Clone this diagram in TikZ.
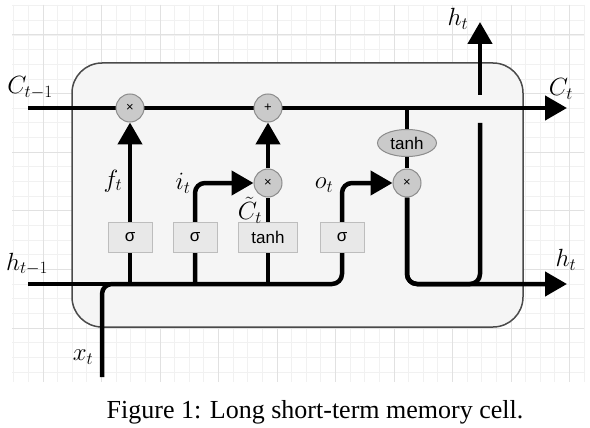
\documentclass[tikz,border=0pt]{standalone}
\usepackage{fontspec}
\newfontfamily\gatefont{Liberation Sans}
\newfontfamily\capfont{Liberation Serif}
\usetikzlibrary{arrows.meta,shapes.geometric}
\pgfdeclarelayer{back}
\pgfdeclarelayer{lines}
\pgfsetlayers{back,lines,main}
\definecolor{gridminor}{HTML}{F1F1F1}
\definecolor{gridmajor}{HTML}{E1E1E1}
\definecolor{cellfill}{HTML}{F5F5F5}
\definecolor{celledge}{HTML}{4A4A4A}
\definecolor{gatefill}{HTML}{CACACA}
\definecolor{gateedge}{HTML}{8C8C8C}
\definecolor{boxfill}{HTML}{E8E8E8}
\definecolor{boxedge}{HTML}{BDBDBD}
\tikzset{
  flow/.style={line width=4.5pt, black},
  tip/.style={-{Triangle[length=22pt,width=24pt]}},
  opnode/.style={circle, draw=gateedge, fill=gatefill, line width=1pt, minimum size=28pt, inner sep=0pt, font=\gatefont\fontsize{13}{13}\selectfont},
  actbox/.style={rectangle, draw=boxedge, fill=boxfill, line width=1pt, minimum width=44pt, minimum height=30pt, inner sep=0pt, font=\gatefont\fontsize{17}{17}\selectfont},
  actell/.style={ellipse, draw=gateedge, fill=gatefill, line width=1pt, minimum width=59pt, minimum height=27pt, inner sep=0pt, font=\gatefont\fontsize{17}{17}\selectfont},
  lab/.style={font=\fontsize{24}{28}\selectfont, inner sep=0pt},
  minorline/.style={draw=gridminor, line width=0.8pt},
  majorline/.style={draw=gridmajor, line width=1pt},
}
\begin{document}
\begin{tikzpicture}[x=1pt,y=-1pt]
\useasboundingbox (0,0) rectangle (590,428);
\begin{pgfonlayer}{back}
  \fill[white] (0,0) rectangle (590,428);
  \foreach \k in {-2,...,37} \draw[minorline] ({43+14.625*\k},5) -- ({43+14.625*\k},382);
  \foreach \k in {-2,...,23} \draw[minorline] (12,{35+14.65*\k}) -- (584,{35+14.65*\k});
  \foreach \k in {0,...,9} \draw[majorline] ({43+58.5*\k},5) -- ({43+58.5*\k},382);
  \foreach \k in {0,...,5} \draw[majorline] (12,{35+58.6*\k}) -- (584,{35+58.6*\k});
  \draw[celledge, fill=cellfill, line width=1.5pt, rounded corners=30pt] (72,63) rectangle (523,327);
\end{pgfonlayer}

% coordinates
\coordinate (cin) at (28,108);
\coordinate (cout) at (567,108);
\coordinate (hin) at (28,284);
\coordinate (hout) at (567,284);
\coordinate (xin) at (102,377);
\coordinate (htop) at (480,22);
\coordinate (jb) at (480,123);
\coordinate (ja) at (480,95);

% operators
\node[opnode] (m1) at (130,108) {×};
\node[opnode] (p1) at (268,108) {+};
\node[opnode] (m2) at (268,183) {×};
\node[opnode] (m3) at (407,183) {×};
\node[actell] (th) at (407,143) {tanh};
\node[actbox] (s1) at (130,237) {σ};
\node[actbox] (s2) at (195,237) {σ};
\node[actbox, minimum width=59pt] (tb) at (268,237) {tanh};
\node[actbox] (s3) at (342,237) {σ};

\begin{pgfonlayer}{lines}
  \draw[flow,tip] (cin) -- (cout);
  \draw[flow] (hin) -- ([xshift=-12pt]s3.center |- hin);
  \draw[flow,tip,rounded corners=10pt] (xin) |- (s3.center |- hin) |- (m3);
  \draw[flow,tip] (s1.center |- hin) -- (m1);
  \draw[flow,tip,rounded corners=10pt] (s2.center |- hin) |- (m2);
  \draw[flow] (tb.center |- hin) -- (m2);
  \draw[flow,tip] (m2) -- (p1);
  \draw[flow] (m3.center |- cin) -- (th);
  \draw[flow] (th) -- (m3);
  \draw[flow,tip,rounded corners=10pt] (m3) |- (hout);
  \draw[flow,rounded corners=10pt] (m3) |- (jb |- hout) -- (jb);
  \draw[flow,tip] (ja) -- (htop);
\end{pgfonlayer}

% labels
\node[lab] (lc0) at (30,88) {$C_{t-1}$};
\node[lab] (lc1) at (561,89) {$C_t$};
\node[lab] (lht) at (458,19) {$h_t$};
\node[lab] (lh0) at (27,264) {$h_{t-1}$};
\node[lab] (lh1) at (566,260) {$h_t$};
\node[lab] (lx) at (83,357) {$x_t$};
\node[lab] (lf) at (113,181) {$f_t$};
\node[lab] (li) at (183,183) {$i_t$};
\node[lab] (lct) at (250,210) {$\tilde{C}_t$};
\node[lab] (lo) at (324,185) {$o_t$};

\node[anchor=base, inner sep=0pt, font=\capfont\fontsize{26}{30}\selectfont] (cap) at (315,418) {Figure 1: Long short-term memory cell.};
\end{tikzpicture}
\end{document}
